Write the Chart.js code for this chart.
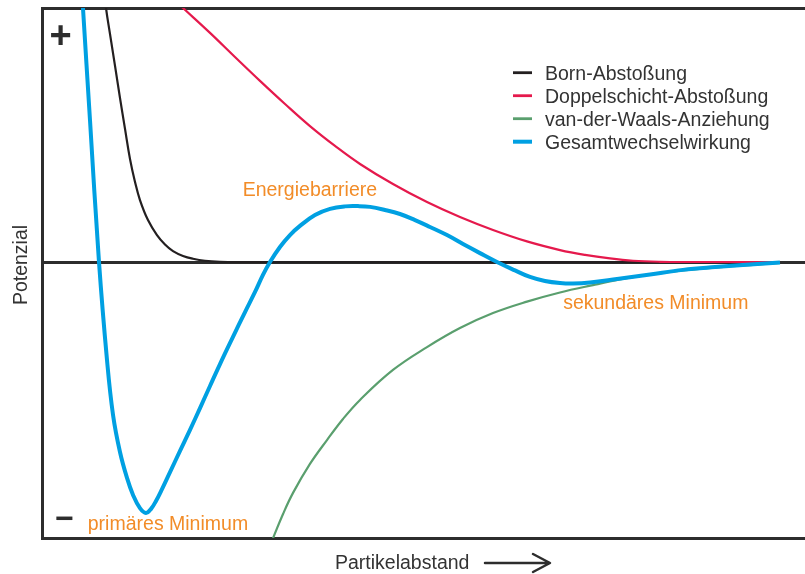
<!DOCTYPE html>
<html lang="de">
<head>
<meta charset="utf-8">
<title>Potenzial über Partikelabstand</title>
<script src="https://cdn.jsdelivr.net/npm/chart.js@4/dist/chart.umd.min.js"></script>
<style>
  html, body { margin: 0; padding: 0; background: #ffffff; }
  canvas { display: block; }
</style>
</head>
<body>
<canvas id="chart" width="805" height="574"></canvas>
<script>
// Abstand (0–100) und Potenzial (relative Einheiten, 0 = Nulllinie)
const bornX = [7.86, 8.39, 8.91, 9.57, 10.22, 10.88, 11.53, 12.19, 12.84, 13.89, 15.07, 16.12, 17.17, 18.48, 19.79, 21.36, 23.33, 25.95, 96.72];
const bornY = [114.2, 100, 89.8, 77.2, 64.6, 52.4, 40.6, 31.5, 24.4, 16.5, 10.6, 6.9, 4.3, 2.4, 1.3, 0.5, 0.1, 0, 0];

const doppelX = [17.56, 18.48, 22.02, 25.29, 28.57, 31.85, 35.12, 38.40, 41.68, 46.0, 50.46, 54.78, 59.11, 63.56, 67.89, 71.17, 74.44, 77.46, 81.0, 84.93, 96.72];
const doppelY = [102.6, 100, 90.2, 80.7, 71.3, 62.2, 53.5, 45.7, 38.6, 30.7, 23.6, 17.7, 12.6, 8.1, 4.7, 2.8, 1.4, 0.5, 0.08, 0, 0];

const vdwX = [29.23, 30.28, 31.59, 32.90, 35.12, 37.35, 39.45, 41.68, 46.0, 50.46, 54.78, 59.11, 63.56, 67.89, 72.21, 75.75, 79.69, 84.01, 88.20, 92.79, 96.72];
const vdwY = [-116.1, -108.7, -99.2, -90.9, -79.5, -70.1, -61.8, -54.3, -42.5, -33.5, -26.0, -20.1, -15.6, -12.0, -9.1, -6.9, -4.9, -3.3, -2.2, -1.2, -0.4];

const gesamtX = [4.98, 5.37, 6.29, 7.47, 8.52, 9.31, 10.22, 11.14, 11.93, 12.84, 13.63, 14.29, 14.94, 15.73, 16.78, 18.09, 19.40,
                 20.71, 22.02, 23.33, 25.03, 26.61, 27.92, 28.96, 29.88, 31.19, 32.50, 33.81, 35.78, 37.75, 39.71, 41.42, 43.0,
                 44.95, 46.92, 48.89, 50.85, 53.08, 55.18, 57.40, 59.63, 61.99, 63.96, 65.92, 67.89, 69.59, 71.82, 75.36,
                 79.69, 84.01, 88.20, 92.79, 96.72];
const gesamtY = [118.9, 100, 55.9, 0, -38.6, -60.2, -74.8, -85.0, -91.7, -96.9, -98.8, -97.2, -94.1, -89.4, -82.7, -74.4, -66.1,
                 -57.5, -48.8, -40.2, -29.5, -19.7, -11.8, -5.1, 0, 5.9, 10.6, 14.2, 18.5, 20.9, 21.9, 22.0, 21.7,
                 20.5, 18.9, 16.5, 13.8, 10.6, 7.1, 3.5, 0, -3.3, -5.9, -7.5, -8.3, -8.5, -8.1, -6.7,
                 -4.9, -3.1, -2.0, -1.0, -0.2];

const seriesNames = ['Born-Abstoßung', 'Doppelschicht-Abstoßung', 'van-der-Waals-Anziehung', 'Gesamtwechselwirkung'];
const annotationTexts = ['Energiebarriere', 'primäres Minimum', 'sekundäres Minimum'];
const axisTitles = { x: 'Partikelabstand', y: 'Potenzial' };

const FONT = '"Liberation Sans", Arial, Helvetica, sans-serif';
const TEXT_COLOR = '#333333';
const ORANGE = '#F28C28';
const FRAME = '#2d2d2d';

const toPoints = (xs, ys) => xs.map((x, i) => ({ x, y: ys[i] }));

const lineStyle = (color, width, order) => ({
  borderColor: color,
  backgroundColor: color,
  borderWidth: width,
  pointRadius: 0,
  pointHoverRadius: 0,
  tension: 0.4,
  fill: false,
  clip: 0,
  order
});

const datasets = [
  { label: seriesNames[0], data: toPoints(bornX, bornY), ...lineStyle('#231f20', 2.2, 3) },
  { label: seriesNames[1], data: toPoints(doppelX, doppelY), ...lineStyle('#e5194c', 2.2, 2) },
  { label: seriesNames[2], data: toPoints(vdwX, vdwY), ...lineStyle('#5a9f6e', 2.2, 1) },
  { label: seriesNames[3], data: toPoints(gesamtX, gesamtY), ...lineStyle('#00a0e2', 4, 0) }
];

// Beschriftungen in Datenkoordinaten (x, Grundlinie y)
const annotations = [
  { text: annotationTexts[0], x: 26.3, y: 25.8 },
  { text: annotationTexts[1], x: 6.0, y: -105.4 },
  { text: annotationTexts[2], x: 68.3, y: -18.5 }
];

const decorPlugin = {
  id: 'decor',
  afterDatasetsDraw(chart) {
    const { ctx, chartArea, scales } = chart;
    ctx.save();

    // Vorzeichen am linken Rand
    ctx.fillStyle = FRAME;
    ctx.textAlign = 'center';
    ctx.textBaseline = 'middle';
    ctx.font = 'bold 38px ' + FONT;
    ctx.fillText('+', chartArea.left + 18.5, chartArea.top + 30);
    ctx.font = 'bold 32px ' + FONT;
    ctx.fillText('\u2212', chartArea.left + 22.5, chartArea.bottom - 17.5);

    // Beschriftungen der markanten Stellen
    ctx.fillStyle = ORANGE;
    ctx.textAlign = 'left';
    ctx.textBaseline = 'alphabetic';
    ctx.font = '19.5px ' + FONT;
    annotations.forEach(a => {
      ctx.fillText(a.text, scales.x.getPixelForValue(a.x), scales.y.getPixelForValue(a.y));
    });

    // Legende
    const legendX = 513, legendY = 72.7, rowH = 23;
    chart.data.datasets.forEach((ds, i) => {
      const y = legendY + i * rowH;
      ctx.strokeStyle = ds.borderColor;
      ctx.lineWidth = ds.borderWidth > 3 ? 4 : 2.8;
      ctx.beginPath();
      ctx.moveTo(legendX, y);
      ctx.lineTo(legendX + 19, y);
      ctx.stroke();
      ctx.fillStyle = TEXT_COLOR;
      ctx.fillText(ds.label, legendX + 32, y + 6.8);
    });

    // Achsentitel
    ctx.fillStyle = TEXT_COLOR;
    ctx.textAlign = 'left';
    ctx.fillText(axisTitles.x, 335, 569);

    // Pfeil hinter dem x-Titel
    ctx.strokeStyle = FRAME;
    ctx.lineWidth = 2.5;
    ctx.lineCap = 'round';
    ctx.lineJoin = 'round';
    ctx.beginPath();
    ctx.moveTo(485, 563);
    ctx.lineTo(549, 563);
    ctx.moveTo(533, 554);
    ctx.lineTo(550, 563);
    ctx.lineTo(533, 572);
    ctx.stroke();

    ctx.save();
    ctx.translate(27, 265);
    ctx.rotate(-Math.PI / 2);
    ctx.textAlign = 'center';
    ctx.fillStyle = TEXT_COLOR;
    ctx.fillText(axisTitles.y, 0, 0);
    ctx.restore();

    ctx.restore();
  }
};

new Chart(document.getElementById('chart'), {
  type: 'line',
  data: { datasets },
  options: {
    responsive: false,
    animation: false,
    events: [],
    layout: { padding: { left: 42, top: 8, right: 0, bottom: 36 } },
    plugins: {
      legend: { display: false },
      tooltip: { enabled: false },
      title: { display: false }
    },
    scales: {
      x: {
        type: 'linear',
        min: 0,
        max: 100,
        ticks: { display: false },
        grid: { display: false, drawTicks: false },
        border: { display: true, color: FRAME, width: 3 }
      },
      xTop: {
        type: 'linear',
        position: 'top',
        min: 0,
        max: 100,
        ticks: { display: false },
        grid: { display: false, drawTicks: false },
        border: { display: true, color: FRAME, width: 3 }
      },
      y: {
        type: 'linear',
        min: -108.66,
        max: 100,
        afterBuildTicks: (scale) => { scale.ticks = [{ value: 0 }]; },
        ticks: { display: false },
        grid: {
          display: true,
          drawTicks: false,
          color: (c) => (c.tick && c.tick.value === 0 ? FRAME : 'rgba(0,0,0,0)'),
          lineWidth: 3
        },
        border: { display: true, color: FRAME, width: 3 }
      }
    }
  },
  plugins: [decorPlugin]
});
</script>
</body>
</html>
